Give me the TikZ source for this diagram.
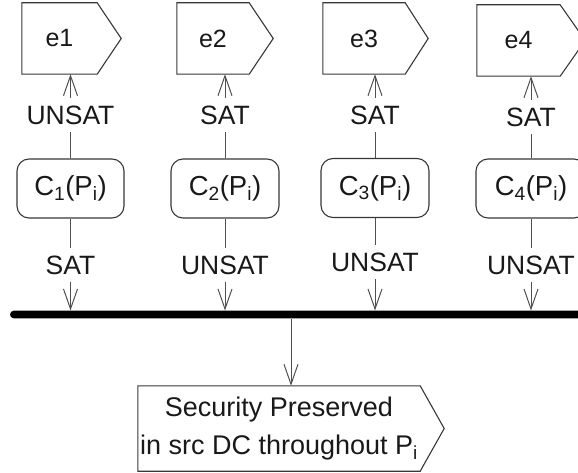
\documentclass[tikz,border=0pt]{standalone}
\usepackage{fontspec}
\setmainfont{Liberation Sans}
\usetikzlibrary{arrows.meta,calc}
\definecolor{boxgray}{RGB}{55,55,55}
\definecolor{linegray}{RGB}{80,80,80}
\definecolor{inkgray}{RGB}{25,25,25}
\begin{document}
\begin{tikzpicture}[x=1pt,y=-1pt,
  ln/.style={draw=linegray, line width=1pt},
  flow/.style={ln, -{Straight Barb[length=20pt,width=14pt]}},
  sigbody/.style={inner sep=0pt, text=inkgray},
  sigline/.style={draw=boxgray, line width=1.1pt, line join=miter},
  cond/.style={draw=boxgray, line width=1.1pt, rounded corners=12pt,
    minimum height=59pt, inner sep=0pt, text=inkgray,
    font=\fontsize{27.5}{30}\selectfont},
  guard/.style={fill=white, inner sep=0pt, text=inkgray,
    text height=19pt, text depth=0pt, minimum height=34pt,
    font=\fontsize{26.5}{30}\selectfont},
  ename/.style={font=\fontsize{25}{28}\selectfont},
]
\useasboundingbox (0,0) rectangle (578,473);
\clip (0,0) rectangle (578,473);

% event (send signal) bodies
\node[sigbody, ename, minimum width=75pt, minimum height=71pt] (e1) at (59.5,38.5) {e1};
\node[sigbody, ename, minimum width=72pt, minimum height=71pt] (e2) at (213,38.5) {e2};
\node[sigbody, ename, minimum width=82pt, minimum height=71pt] (e3) at (364,38.5) {e3};
\node[sigbody, ename, minimum width=83pt, minimum height=71pt] (e4) at (518.5,40.5) {e4};
\foreach \n/\d in {e1/24,e2/24,e3/23,e4/25}{
  \draw[sigline] (\n.north west) -- (\n.north east) -- ($(\n.east)+(\d,0)$)
    -- (\n.south east) -- (\n.south west) -- cycle;
}

% condition checks
\node[cond, minimum width=107pt] (c1) at (70.5,188.5) {C\textsubscript{1}(P\textsubscript{i})};
\node[cond, minimum width=108pt] (c2) at (225,188.5) {C\textsubscript{2}(P\textsubscript{i})};
\node[cond, minimum width=108pt] (c3) at (375,188) {C\textsubscript{3}(P\textsubscript{i})};
\node[cond, minimum width=110pt] (c4) at (531,188.5) {C\textsubscript{4}(P\textsubscript{i})};

% join bar
\node[fill=black, rounded corners=3.8pt, minimum width=600pt, minimum height=7.6pt,
  inner sep=0pt] (bar) at (310,314.5) {};

% result (send signal)
\node[sigbody, minimum width=282pt, minimum height=85pt, align=center,
  font=\fontsize{27}{38}\selectfont] (sp) at (279,428.5)
  {Security Preserved\\in src DC throughout P\textsubscript{i}};
\draw[sigline] (sp.north west) -- (sp.north east) -- ($(sp.east)+(24,0)$)
  -- (sp.south east) -- (sp.south west) -- cycle;

% upward flows to the events
\draw[flow] (c1.north) -- node[guard, pos=0.51] {UNSAT} (c1.north |- e1.south);
\draw[flow] (c2.north) -- node[guard, pos=0.51] {SAT} (c2.north |- e2.south);
\draw[flow] (c3.north) -- node[guard, pos=0.51] {SAT} (c3.north |- e3.south);
\draw[flow] (c4.north) -- node[guard, pos=0.51] {SAT} (c4.north |- e4.south);

% downward flows to the join
\draw[flow] (c1.south) -- node[guard, pos=0.507] {SAT} (c1.south |- bar.north);
\draw[flow] (c2.south) -- node[guard, pos=0.507] {UNSAT} (c2.south |- bar.north);
\draw[flow] (c3.south) -- node[guard, pos=0.475] {UNSAT} (c3.south |- bar.north);
\draw[flow] (c4.south) -- node[guard, pos=0.507] {UNSAT} (c4.south |- bar.north);

% join to result
\draw[flow] ([xshift=12pt]sp.north |- bar.south) -- ([xshift=12pt]sp.north);
\end{tikzpicture}
\end{document}
